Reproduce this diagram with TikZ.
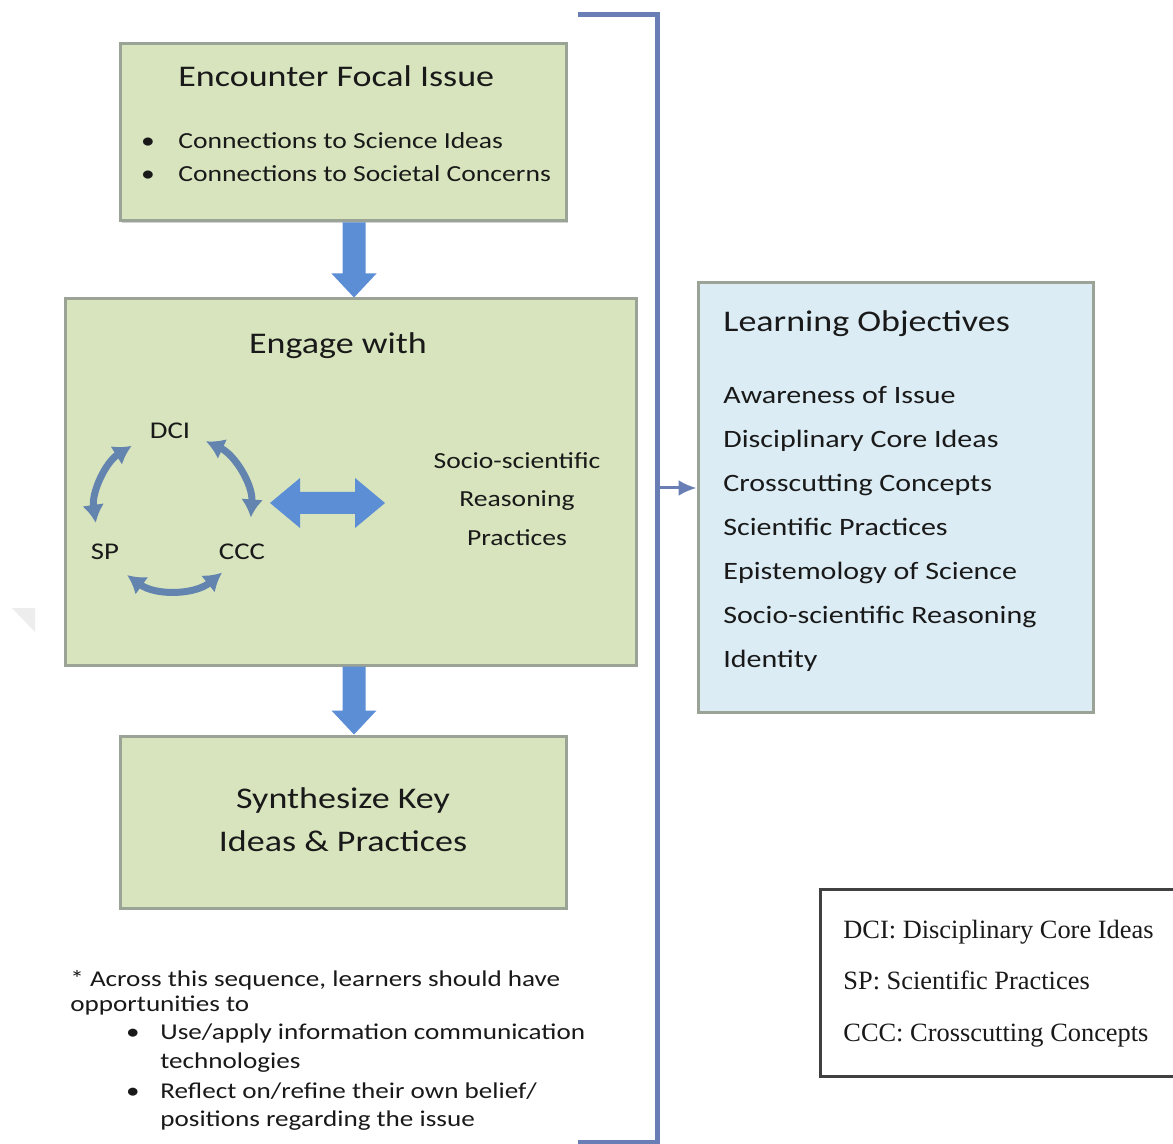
\documentclass[tikz,border=0pt]{standalone}
\usepackage{fontspec}
\setmainfont{Carlito}[FakeStretch=1.2]
\newfontfamily\legendfont{Liberation Serif}
\usetikzlibrary{arrows.meta,calc,shadows}

\definecolor{boxgreen}{RGB}{215,228,189}
\definecolor{boxblue}{RGB}{219,236,244}
\definecolor{boxedge}{RGB}{155,162,150}
\definecolor{arrowblue}{RGB}{92,142,214}
\definecolor{cycleblue}{RGB}{100,132,176}
\definecolor{bracketblue}{RGB}{104,126,180}
\definecolor{inktext}{RGB}{25,25,25}

\tikzset{
  panel/.style={draw=boxedge, line width=1.5, inner sep=0pt,
    drop shadow={shadow xshift=0.8pt, shadow yshift=-1.2pt, opacity=0.35}},
  greenbox/.style={panel, fill=boxgreen},
  bluebox/.style={panel, fill=boxblue},
  lbl/.style={inner sep=0pt, text height=0.66em, text depth=0pt, text=inktext},
  blockarrow/.style={fill=arrowblue},
  cyclearrow/.style={draw=cycleblue, line width=3.5, {Latex[length=9,width=11]}-{Latex[length=9,width=11]}},
  bracket/.style={draw=bracketblue, line width=2.5},
  tap/.style={draw=bracketblue, line width=1.5, -{Latex[length=9,width=8]}},
}

\begin{document}
\begin{tikzpicture}[x=0.5pt, y=-0.5pt]
\path[use as bounding box, fill=white] (0,0) rectangle (1173,1144);

% faint corner mark on the left margin
\fill[gray!14] (12,608) -- (35,608) -- (35,632) -- cycle;

% ---- the three stages ----
\node[greenbox, minimum width=223pt, minimum height=88.5pt] (enc) at (343,132.5) {};
\node[greenbox, minimum width=285.5pt, minimum height=183pt] (eng) at (350.5,482) {};
\node[greenbox, minimum width=223pt, minimum height=86pt] (syn) at (343,822) {};

% stage 1 text
\node[lbl, anchor=west, font=\fontsize{15}{18}\selectfont] (encT) at (178,80) {Encounter Focal Issue};
\node[lbl, font=\fontsize{11.5}{14}\selectfont] (encB1) at (148,142) {\textbullet};
\node[lbl, anchor=west, font=\fontsize{11.5}{14}\selectfont] (encI1) at (178,142) {Connections to Science Ideas};
\node[lbl, font=\fontsize{11.5}{14}\selectfont] (encB2) at (148,175) {\textbullet};
\node[lbl, anchor=west, font=\fontsize{11.5}{14}\selectfont] (encI2) at (178,175) {Connections to Societal Concerns};

% stage 2 text
\node[lbl, font=\fontsize{15}{18}\selectfont] (engT) at (338,347) {Engage with};
\node[lbl, font=\fontsize{12}{14}\selectfont] (dci) at (170,432) {DCI};
\node[lbl, font=\fontsize{12}{14}\selectfont] (sp) at (105,553) {SP};
\node[lbl, font=\fontsize{12}{14}\selectfont] (ccc) at (242,553) {CCC};
\node[lbl, font=\fontsize{11.5}{14}\selectfont] (ssr1) at (517,462) {Socio-scientific};
\node[lbl, font=\fontsize{11.5}{14}\selectfont] (ssr2) at (517,500) {Reasoning};
\node[lbl, font=\fontsize{11.5}{14}\selectfont] (ssr3) at (517,539) {Practices};

% cycle between DCI, SP and CCC
\coordinate (cyc) at (173,512);
\draw[cyclearrow] ($(cyc)+(-122:78)$) arc[start angle=-122, end angle=-188, radius=78];
\draw[cyclearrow] ($(cyc)+(-65:78)$) arc[start angle=-65, end angle=4, radius=78];
\draw[cyclearrow] ($(cyc)+(-234:78)$) arc[start angle=-234, end angle=-309, radius=78];

% two-way block arrow between the cycle and the reasoning practices
\coordinate (dA) at (270,503);
\coordinate (dB) at (385,503);
\fill[blockarrow] (dA) -- ($(dA)+(30,-25)$) -- ($(dA)+(30,-11)$) -- ($(dB)+(-30,-11)$) -- ($(dB)+(-30,-25)$)
  -- (dB) -- ($(dB)+(-30,25)$) -- ($(dB)+(-30,11)$) -- ($(dA)+(30,11)$) -- ($(dA)+(30,25)$) -- cycle;

% stage 3 text
\node[lbl, font=\fontsize{15}{18}\selectfont] (synT1) at (343,802) {Synthesize Key};
\node[lbl, font=\fontsize{15}{18}\selectfont] (synT2) at (343,845) {Ideas \& Practices};

% block arrows between stages
\coordinate (a1s) at ($(enc.south)+(11,0)$);
\coordinate (a1e) at (a1s |- eng.north);
\fill[blockarrow] ($(a1s)+(-11.5,0)$) -- ($(a1e)+(-11.5,-24)$) -- ($(a1e)+(-22.5,-24)$) -- (a1e)
  -- ($(a1e)+(22.5,-24)$) -- ($(a1e)+(11.5,-24)$) -- ($(a1s)+(11.5,0)$) -- cycle;
\coordinate (a2s) at (a1s |- eng.south);
\coordinate (a2e) at (a1s |- syn.north);
\fill[blockarrow] ($(a2s)+(-11.5,0)$) -- ($(a2e)+(-11.5,-24)$) -- ($(a2e)+(-22.5,-24)$) -- (a2e)
  -- ($(a2e)+(22.5,-24)$) -- ($(a2e)+(11.5,-24)$) -- ($(a2s)+(11.5,0)$) -- cycle;

% note below the sequence
\node[lbl, anchor=west, font=\fontsize{11.3}{14}\selectfont] (n1) at (70,980) {* Across this sequence, learners should have};
\node[lbl, anchor=west, font=\fontsize{11.3}{14}\selectfont] (n2) at (70,1005) {opportunities to};
\node[lbl, font=\fontsize{11.3}{14}\selectfont] (nb1) at (133,1033) {\textbullet};
\node[lbl, anchor=west, font=\fontsize{11.3}{14}\selectfont] (n3) at (160,1033) {Use/apply information communication};
\node[lbl, anchor=west, font=\fontsize{11.3}{14}\selectfont] (n4) at (160,1062) {technologies};
\node[lbl, font=\fontsize{11.3}{14}\selectfont] (nb2) at (133,1092) {\textbullet};
\node[lbl, anchor=west, font=\fontsize{11.3}{14}\selectfont] (n5) at (160,1092) {Reflect on/refine their own belief/};
\node[lbl, anchor=west, font=\fontsize{11.3}{14}\selectfont] (n6) at (160,1120) {positions regarding the issue};

% bracket gathering the whole sequence
\coordinate (brT) at (578,15);
\coordinate (brB) at (578,1142);
\draw[bracket] (brT) -- (657,15) -- (657,1142) -- (brB);

% learning objectives
\node[bluebox, minimum width=197.5pt, minimum height=214.5pt] (lo) at (895.5,497.5) {};
\coordinate (tapS) at (657,488);
\draw[tap] (tapS) -- (tapS -| lo.west);
\node[lbl, anchor=west, font=\fontsize{15}{18}\selectfont] (loT) at (723,325) {Learning Objectives};
\foreach \t [count=\i from 0] in {Awareness of Issue, Disciplinary Core Ideas, Crosscutting Concepts,
    Scientific Practices, Epistemology of Science, Socio-scientific Reasoning, Identity}
  \node[lbl, anchor=west, font=\fontsize{12.5}{15}\selectfont] (lo\i) at (723,{397+44*\i}) {\t};

% abbreviation key
\node[draw=black!75, line width=1.5, inner sep=0pt, minimum width=178pt, minimum height=93.5pt] (key) at (1178,982.5) [anchor=east] {};
\node[lbl, anchor=west, font=\legendfont\fontsize{13.2}{15}\selectfont] (k1) at (843,932) {DCI: Disciplinary Core Ideas};
\node[lbl, anchor=west, font=\legendfont\fontsize{13.2}{15}\selectfont] (k2) at (843,983) {SP: Scientific Practices};
\node[lbl, anchor=west, font=\legendfont\fontsize{13.2}{15}\selectfont] (k3) at (843,1035) {CCC: Crosscutting Concepts};
\end{tikzpicture}
\end{document}
